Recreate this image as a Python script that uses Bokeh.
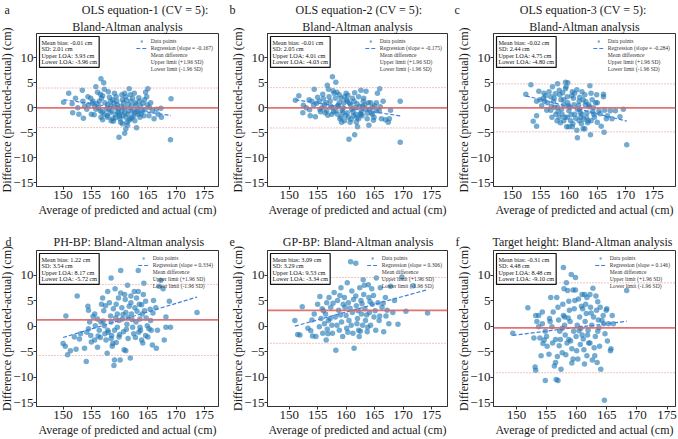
from bokeh.plotting import figure
from bokeh.models import Span, Label, Legend, LegendItem, Title, Range1d, FixedTicker
from bokeh.layouts import gridplot
from bokeh.embed import file_html
from bokeh.resources import INLINE
import numpy as np

FONT = "Liberation Serif"

X_TICKS = [150, 155, 160, 165, 170, 175]
Y_TICKS = [-15, -10, -5, 0, 5, 10]

# ---- (a) OLS equation-1 -------------------------------------------------
ols1_avg = [156.7, 157.2, 155.8, 151.0, 153.4, 150.1, 151.6, 151.7, 152.8, 153.6,
            154.4, 154.9, 154.5, 155.3, 155.6, 155.0, 155.5, 156.1, 156.6, 156.8,
            156.4, 156.3, 156.6, 156.7, 157.3, 157.4, 157.6, 157.8, 158.2, 158.4,
            158.5, 158.6, 158.8, 158.9, 159.1, 159.4, 159.5, 159.6, 159.8, 159.9,
            160.1, 160.2, 160.5, 160.7, 160.8, 160.9, 161.1, 161.3, 161.4, 161.7,
            161.9, 162.0, 162.1, 162.3, 162.5, 162.6, 162.9, 163.2, 163.3, 163.0,
            163.5, 163.7, 164.0, 164.3, 164.6, 165.0, 164.9, 165.5, 165.8, 166.1,
            166.5, 167.3, 167.4, 169.1, 169.0, 159.9, 160.9, 157.9, 157.3, 158.5,
            159.2, 160.4, 161.5, 161.9, 162.7, 163.6, 165.2, 164.8, 162.3, 161.1,
            160.4, 158.0, 158.8, 159.4, 161.5, 162.6, 155.8, 153.8, 153.5, 152.6,
            161.1, 160.5, 157.0, 157.9, 158.3, 159.0, 159.7, 160.3, 160.6, 161.2,
            161.6, 162.2, 162.8, 163.1, 163.8, 164.1, 164.5, 156.0, 155.2, 154.2,
            159.3, 160.0, 161.7, 158.1, 156.9, 163.4, 164.4, 166.8, 165.3, 152.2,
            157.0, 160.9]
ols1_diff = [5.8, 5.0, 4.2, 2.9, 3.5, 1.1, 0.8, -1.0, -1.3, -2.1,
             2.2, 1.9, 0.6, 1.3, 0.3, -1.3, -1.4, 3.1, 2.7, 1.9,
             1.3, 0.0, -0.6, -1.9, 3.7, 1.0, -0.3, -1.6, 2.1, 1.3,
             0.3, -0.6, -2.2, -2.7, 2.9, 2.2, 1.3, 0.6, -0.3, -1.3,
             -2.2, -2.9, 1.6, 1.0, 0.0, -1.0, -1.9, -2.9, -3.5, 3.8,
             2.6, 1.3, 0.3, -0.6, -1.6, 2.9, 0.6, -0.3, -1.3, -4.0,
             1.3, 0.3, -0.6, -1.6, 3.1, 3.8, 0.6, 1.0, -0.6, -2.2,
             -0.3, -0.1, -1.9, 1.8, -6.4, -5.9, -5.1, -1.9, -1.3, -2.6,
             -1.3, -0.6, -1.3, -2.2, -2.6, -1.9, -1.6, 2.2, 1.9, 2.2,
             2.6, 3.2, 1.6, 0.0, 0.6, -1.0, -0.3, 0.3, 1.3, 0.0,
             -4.2, -3.2, 2.4, 0.6, -1.0, 0.9, -0.9, 0.3, -1.5, 1.5,
             -0.6, -2.0, 1.0, -0.8, -1.2, 0.9, -0.4, 0.8, 0.9, -0.3,
             -2.0, -1.7, -2.5, -0.2, -0.9, 2.0, 1.6, -1.3, 0.1, 1.9,
             -2.4, 2.9]

# ---- (b) OLS equation-2 -------------------------------------------------
ols2_avg = [151.1, 151.7, 152.5, 152.4, 153.7, 154.6, 154.4, 154.0, 154.3, 155.0,
            155.3, 155.4, 155.9, 156.2, 156.3, 156.7, 156.9, 157.0, 157.2, 157.3,
            157.6, 158.2, 157.9, 158.1, 158.2, 158.5, 158.8, 159.1, 159.2, 159.5,
            159.7, 160.0, 160.1, 160.2, 160.4, 160.5, 161.5, 160.8, 161.0, 161.1,
            161.4, 161.7, 161.8, 162.0, 162.2, 162.4, 162.6, 162.7, 162.8, 163.0,
            163.3, 163.5, 163.7, 164.0, 164.1, 164.3, 164.6, 164.9, 165.3, 165.5,
            165.9, 165.8, 166.2, 166.5, 166.9, 167.4, 167.8, 167.6, 169.5, 169.5,
            153.0, 153.5, 155.8, 156.5, 156.6, 157.5, 158.5, 159.4, 159.7, 160.7,
            161.3, 161.6, 162.2, 163.1, 163.5, 164.6, 165.3, 158.8, 157.5, 162.6,
            160.2, 159.1, 157.7, 158.6, 159.3, 159.9, 160.6, 160.9, 161.2, 161.9,
            162.5, 162.9, 163.9, 164.4, 165.0, 156.0, 155.5, 154.8, 158.9, 160.3,
            161.5, 157.8, 163.7, 166.0, 158.4, 159.6, 161.9, 164.8, 153.6, 156.8]
ols2_diff = [1.5, 2.4, 0.5, -1.0, -1.6, -1.8, 3.7, 1.3, 0.5, 2.1,
             1.3, -0.3, 2.7, 0.6, -1.0, 4.5, 3.7, 2.2, 1.3, 0.3,
             6.2, 5.1, 2.9, 1.9, -0.6, -1.3, 1.0, -1.9, -2.9, 0.0,
             2.2, 2.9, 1.6, -1.0, -1.9, -6.3, -5.4, 0.6, -0.3, 1.9,
             1.3, -1.3, -2.9, -3.8, -2.2, 0.3, 3.5, -0.6, -1.6, 1.3,
             0.6, 3.3, -2.2, -3.5, -0.3, 1.0, -1.3, -1.9, 1.0, 2.9,
             3.8, -0.6, -2.2, 1.3, -2.4, -2.9, -0.5, -2.2, 1.3, -6.9,
             0.0, 1.6, 0.0, 1.0, -0.6, -1.3, 0.3, -1.0, -2.6, -2.9,
             -1.6, 0.0, 2.2, 1.9, -0.3, 0.1, -0.6, 2.6, 0.0, -1.3,
             1.3, 1.9, 3.4, 0.5, -0.5, -1.5, 0.9, -2.3, -0.8, 0.8,
             -1.2, 0.3, 1.0, -1.0, 0.4, 1.8, -0.8, 0.9, -2.2, 2.5,
             3.0, -0.8, -1.1, 0.2, 3.1, 1.0, -2.0, -2.5, -0.4, -1.5]

# ---- (c) OLS equation-3 -------------------------------------------------
ols3_avg = [152.4, 153.3, 153.7, 154.3, 154.3, 154.7, 154.3, 154.9, 155.6, 155.5,
            156.1, 156.2, 156.5, 156.8, 157.1, 157.3, 157.5, 157.7, 157.9, 158.0,
            158.3, 158.4, 158.6, 158.7, 158.8, 159.4, 159.8, 159.4, 159.7, 159.8,
            160.0, 159.7, 159.6, 160.3, 160.6, 160.8, 160.9, 161.0, 161.4, 161.5,
            161.8, 161.9, 162.1, 162.2, 162.5, 162.8, 162.8, 162.9, 163.2, 163.4,
            163.7, 163.8, 163.9, 164.1, 164.3, 164.5, 164.9, 165.0, 165.3, 165.7,
            166.1, 166.1, 166.2, 166.3, 166.8, 167.3, 168.2, 169.0, 169.6, 170.2,
            156.8, 158.0, 159.1, 160.2, 161.5, 162.3, 163.1, 161.8, 160.6, 159.1,
            158.3, 157.4, 159.1, 162.5, 163.5, 164.4, 155.7, 161.0, 161.9, 160.0,
            163.9, 165.0, 167.6, 156.9, 157.6, 158.1, 158.9, 159.3, 159.9, 160.4,
            160.5, 161.2, 161.7, 162.0, 162.6, 163.0, 163.3, 163.6, 164.2, 164.7,
            165.5, 155.9, 155.2, 157.0, 158.5, 160.7, 161.4, 162.3, 159.5, 166.6]
ols3_diff = [2.7, 4.6, -2.7, -3.7, -1.6, 3.3, 1.3, 1.6, 2.9, 1.9,
             -0.5, 1.0, 3.2, 2.2, 4.2, 1.3, 0.1, -1.3, -2.6, 4.8,
             3.5, 2.6, 1.6, -0.3, -1.3, 5.1, 5.0, 3.8, 2.2, 1.0,
             -0.6, -1.9, -3.8, -2.6, 3.2, 1.9, 0.6, -1.3, -4.5, -6.0,
             1.3, -0.3, -1.9, -3.2, -4.2, -4.2, 2.6, 0.6, -1.0, -2.6,
             4.4, -5.4, 2.9, 1.6, 0.0, -1.9, 2.6, 1.0, -0.6, -3.7,
             2.2, 2.7, -4.9, -0.5, -1.6, -0.6, -0.6, -1.8, -0.3, -7.4,
             -0.5, 0.1, 0.6, 0.1, -0.3, -1.3, -1.9, -2.6, -3.8, -2.6,
             -1.9, 1.9, 1.6, 1.6, 0.6, -1.3, 1.3, 2.9, 2.1, -3.8,
             -2.6, -2.9, -2.2, 0.3, 2.8, -0.8, 3.0, -1.9, 0.4, -1.4,
             2.4, -2.1, 0.5, -1.0, -2.3, 1.2, -3.0, 0.2, -0.8, 1.0,
             -1.2, 2.4, 0.4, -1.9, -3.0, -3.2, 3.6, 3.2, 4.2, -2.2]

# ---- (d) PH-BP -----------------------------------------------------------
phbp_avg = [150.0, 150.4, 150.5, 150.8, 151.3, 152.3, 152.5, 153.8, 154.1, 154.4,
            154.5, 154.7, 154.5, 154.9, 155.0, 155.6, 155.7, 156.1, 156.4, 156.6,
            156.8, 157.0, 157.2, 157.3, 157.4, 157.6, 157.8, 157.9, 158.2, 158.4,
            158.5, 158.6, 158.8, 159.0, 159.1, 160.1, 158.5, 159.2, 159.4, 159.6,
            159.6, 159.9, 160.2, 160.4, 160.5, 160.7, 160.8, 161.1, 160.2, 161.0,
            161.1, 161.3, 161.5, 161.9, 162.0, 162.1, 162.3, 162.5, 162.7, 163.0,
            163.3, 163.3, 163.5, 163.6, 163.7, 163.9, 164.2, 164.4, 164.6, 164.9,
            165.0, 165.4, 165.5, 165.6, 165.8, 166.4, 166.5, 166.7, 167.0, 167.3,
            167.9, 168.2, 168.2, 168.8, 169.0, 173.7, 155.6, 156.1, 153.1, 152.0,
            159.1, 157.9, 158.5, 162.0, 161.5, 162.9, 159.9, 159.4, 156.7, 164.0,
            164.6, 163.6, 164.3, 167.7, 157.1, 158.0, 158.9, 159.3, 160.0, 160.6,
            161.2, 161.7, 162.2, 162.8, 163.1, 163.9, 164.7, 165.2, 165.9, 156.2,
            155.3, 154.2, 157.5, 158.7, 160.9, 162.6, 163.4, 164.1, 166.0, 159.8,
            161.4, 152.9]
phbp_diff = [-3.4, -3.9, 2.0, -5.6, -4.8, -4.5, 5.9, -4.3, -6.9, 3.9,
             3.1, 0.8, -0.5, -1.8, -3.1, 2.4, 0.1, 1.4, -0.8, -2.2,
             4.3, 5.5, 3.0, 0.1, -1.5, -2.7, -5.3, 6.8, 4.6, 2.0,
             0.8, -1.8, -3.4, -7.7, -6.6, -6.6, 9.4, 7.3, 4.3, 2.4,
             -0.2, -2.1, 6.5, 3.6, 1.4, -1.1, -4.6, -4.8, 10.9, 5.2,
             2.7, 0.4, -2.4, -6.2, 4.6, 2.4, -0.2, -1.5, 3.6, 5.5,
             10.9, 6.8, 4.3, 1.4, -0.8, -2.7, 6.2, 3.0, 4.9, 0.1,
             -2.1, 3.3, 1.1, -0.8, -3.7, 3.6, -4.3, -0.8, 7.8, 9.0,
             -2.7, 1.8, -0.2, 4.9, -0.2, 2.7, -2.7, -4.1, -1.5, -2.1,
             -0.8, -0.8, -2.4, 5.9, 1.7, 0.8, 1.1, -3.2, 0.8, 2.4,
             -1.8, -0.2, 8.4, 7.3, 1.0, -1.2, 3.4, 1.6, -1.6, 2.3,
             -0.6, 3.9, 1.3, -2.2, 2.9, 4.2, 1.6, -0.5, 2.6, -1.9,
             1.9, -1.2, 4.0, -3.9, 6.2, 6.8, -1.2, -3.3, 5.0, 5.5,
             8.0, -2.5]

# ---- (e) GP-BP -----------------------------------------------------------
gpbp_avg = [151.0, 151.5, 151.9, 152.3, 153.3, 153.8, 154.4, 154.7, 155.0, 155.3,
            155.6, 155.8, 155.9, 156.2, 156.4, 156.5, 156.6, 156.7, 156.9, 157.0,
            157.3, 157.5, 157.6, 157.9, 158.1, 158.2, 158.5, 158.7, 158.8, 159.1,
            159.2, 159.4, 159.7, 159.8, 160.0, 160.1, 160.2, 160.4, 160.5, 160.8,
            161.0, 161.1, 161.2, 161.4, 161.7, 161.7, 161.8, 162.0, 162.2, 162.3,
            162.4, 162.6, 162.7, 162.9, 163.0, 163.1, 163.3, 163.4, 163.7, 163.9,
            164.0, 164.1, 164.3, 164.5, 164.6, 164.9, 165.2, 165.3, 165.6, 165.8,
            166.0, 166.3, 166.6, 166.9, 167.2, 167.5, 167.8, 168.2, 169.1, 170.5,
            169.8, 171.8, 174.3, 154.1, 156.0, 156.8, 157.7, 158.4, 159.0, 159.5,
            160.3, 160.7, 161.3, 161.9, 162.1, 162.5, 162.8, 163.2, 163.6, 164.2,
            164.8, 165.1, 165.9, 166.5, 157.2, 158.9, 160.9, 163.8, 155.4, 154.0,
            167.0, 168.5]
gpbp_diff = [1.1, -1.6, -1.7, 3.8, -0.4, -0.9, 2.4, -2.0, 4.3, -0.1,
             1.5, 3.4, -1.4, 0.5, 2.4, -2.7, 4.6, -0.6, 1.1, 5.6,
             3.7, 0.2, -1.4, 6.6, 1.8, -4.7, 5.0, 3.1, -0.8, 7.5,
             0.8, -2.0, 5.6, 3.7, 2.1, -0.4, 8.5, 4.6, 1.1, 12.6,
             6.9, 2.7, -1.4, -4.3, 12.3, 5.9, 4.0, 1.5, -0.8, -2.0,
             7.5, 5.0, 2.4, 0.2, 9.1, 6.2, 3.4, 1.1, -1.1, 8.1,
             5.6, 2.7, 0.2, 7.3, 4.3, 1.8, -0.8, 9.4, 4.6, 1.1,
             7.5, 3.7, -1.1, 5.6, 3.1, 0.5, 7.8, 2.7, 0.4, 2.9,
             9.6, 7.9, 2.6, -1.9, 3.0, -1.5, 4.5, 0.2, 2.2, 4.3,
             -1.2, 3.5, 5.2, 0.5, 3.0, -1.0, 4.4, 8.0, 2.2, 4.8,
             6.0, 3.0, 2.0, 4.5, 1.5, 6.0, 0.2, -0.2, 5.8, 1.2,
             2.0, 5.0]

# ---- (f) Target height ---------------------------------------------------
target_avg = [149.4, 151.9, 152.9, 153.2, 153.4, 153.1, 153.2, 153.7, 153.7, 153.9,
              154.1, 154.3, 154.4, 154.8, 154.8, 155.0, 155.1, 155.4, 155.6, 155.7,
              155.9, 156.1, 156.3, 156.5, 156.6, 156.9, 156.7, 156.9, 157.0, 157.2,
              157.3, 157.4, 157.6, 157.8, 157.7, 157.8, 158.0, 158.1, 158.3, 158.4,
              158.5, 158.7, 158.8, 158.9, 159.1, 159.2, 159.4, 159.5, 159.6, 159.8,
              159.8, 159.9, 160.1, 160.2, 160.3, 160.5, 160.6, 160.7, 160.9, 161.0,
              161.2, 161.3, 161.4, 161.6, 161.7, 161.8, 162.0, 162.2, 162.3, 162.5,
              162.7, 162.8, 163.0, 163.1, 163.3, 163.4, 163.5, 163.6, 163.8, 163.9,
              164.0, 164.4, 164.5, 164.6, 164.9, 165.1, 165.3, 165.6, 165.7, 165.9,
              166.1, 168.3, 157.6, 156.5, 158.7, 159.4, 160.9, 161.7, 162.2, 154.3,
              161.3, 157.1, 158.2, 158.6, 159.0, 159.7, 160.4, 160.8, 161.1, 161.5,
              161.9, 162.4, 162.9, 163.2, 163.7, 164.2, 164.7, 156.0, 155.5, 154.6,
              157.9, 159.2, 160.0, 162.6, 163.5, 158.0, 156.8, 165.0]
target_diff = [-1.4, 3.6, -2.3, 2.1, 0.9, -8.0, -8.6, 2.1, -0.1, -2.3,
               -5.8, 2.8, -3.4, -10.6, -1.0, -2.0, -3.9, -5.5, 0.9, 5.6,
               -0.1, 2.8, -7.8, -7.1, -10.4, -10.6, 5.6, 3.7, 1.2, -1.0,
               -2.6, -8.4, -5.2, 11.5, 4.3, 2.1, 0.2, -1.7, 8.5, -3.3,
               7.0, 4.9, 3.1, 0.9, 10.1, -4.4, 7.1, -1.0, 3.4, 9.5,
               7.1, -2.0, 0.2, -6.4, 5.3, 1.8, -3.6, -0.4, 6.2, 3.4,
               -4.6, -7.4, 0.9, 2.5, 5.6, -1.7, -3.3, 6.2, 3.7, 0.2,
               7.4, 1.8, -5.8, -2.0, 3.1, -7.1, -1.0, 1.2, -3.9, 3.7,
               -8.4, 2.1, 0.5, -14.5, 3.1, -2.9, 0.5, -4.8, -4.4, 2.1,
               0.5, 7.0, -0.4, -2.6, -2.6, -6.4, -1.7, -5.8, -3.3, 0.5,
               6.2, -3.8, -5.6, 1.6, -2.9, 5.0, -0.9, 3.9, -2.5, 4.3,
               -0.8, 2.6, -4.2, 5.9, -0.3, 1.1, -1.5, -3.3, 1.5, -2.7,
               7.3, -7.2, -4.8, -6.6, 4.8, 1.8, -5.9, 3.4]

# Reported summary statistics per method: bias, SD, upper LOA, lower LOA, slope
panel_letters = ["a", "b", "c", "d", "e", "f"]
panel_titles = [["OLS equation-1 (CV = 5):", "Bland-Altman analysis"],
                ["OLS equation-2 (CV = 5):", "Bland-Altman analysis"],
                ["OLS equation-3 (CV = 5):", "Bland-Altman analysis"],
                ["PH-BP: Bland-Altman analysis"],
                ["GP-BP: Bland-Altman analysis"],
                ["Target height: Bland-Altman analysis"]]
mean_bias = [-0.01, -0.01, -0.02, 1.22, 3.09, -0.31]
sd_values = [2.01, 2.05, 2.44, 3.54, 3.29, 4.48]
upper_loa = [3.93, 4.01, 4.75, 8.17, 9.53, 8.48]
lower_loa = [-3.96, -4.03, -4.80, -5.72, -3.34, -9.10]
reg_slope = [-0.167, -0.175, -0.284, 0.334, 0.306, 0.146]

avg_series = [ols1_avg, ols2_avg, ols3_avg, phbp_avg, gpbp_avg, target_avg]
diff_series = [ols1_diff, ols2_diff, ols3_diff, phbp_diff, gpbp_diff, target_diff]

X_LABEL = "Average of predicted and actual (cm)"
Y_LABEL = "Difference (predicted-actual) (cm)"

# layout constants
X_LIMS = [(145.3, 177.5), (146.2, 177.8), (146.7, 178.8),
          (145.3, 177.5), (146.2, 177.8), (146.2, 176.4)]
Y_LIM = (-15.7, 14.8)
COL_BORDERS = [(35, 8), (41, 5), (41, 3)]   # left, right
ROW_SIZES = [(219, 28, 31), (220, 31, 28)]  # height, top, bottom
ROW_TITLE_STANDOFF = [1, 4]
LETTER_LEFT = [3, 3, 2, 4, 3, 3]            # px from the canvas' left edge
TITLE_GAP = [24, 20, 20, 14, 16, 11]        # spaces between letter and title
YTITLE_STANDOFF = -6                        # pulls the y title against the ticks

PT_COLOR = "#1f77b4"
REG_COLOR = "#3f7fe0"
MEAN_COLOR = "#df6464"
LOA_COLOR = "#e08888"
AX_COLOR = "#333333"
TXT_COLOR = "#1a1a1a"
DOT = "1 2"
NBSP = "\u00a0"


def make_panel(i):
    row, col = divmod(i, 3)
    h, btop, bbot = ROW_SIZES[row]
    bl, br = COL_BORDERS[col]
    xlo, xhi = X_LIMS[i]
    p = figure(width=226, height=h, output_backend="svg", toolbar_location=None,
               x_range=Range1d(xlo, xhi), y_range=Range1d(*Y_LIM),
               min_border_left=bl, min_border_right=br,
               min_border_top=btop, min_border_bottom=bbot,
               x_axis_label=X_LABEL)
    p.background_fill_color = "white"
    p.border_fill_color = "white"
    p.outline_line_color = AX_COLOR
    p.outline_line_width = 1
    p.xgrid.visible = False
    p.ygrid.visible = False
    p.xaxis.ticker = FixedTicker(ticks=X_TICKS)
    p.yaxis.ticker = FixedTicker(ticks=Y_TICKS)
    for ax in (p.xaxis[0], p.yaxis[0]):
        ax.major_tick_out = 3
        ax.major_tick_in = 0
        ax.minor_tick_out = 0
        ax.minor_tick_in = 0
        ax.axis_line_color = AX_COLOR
        ax.major_tick_line_color = AX_COLOR
        ax.major_label_text_font = FONT
        ax.major_label_text_font_size = "13px"
        ax.major_label_text_color = TXT_COLOR
        ax.axis_label_text_font = FONT
        ax.axis_label_text_font_size = "12px"
        ax.axis_label_text_font_style = "normal"
        ax.axis_label_text_color = TXT_COLOR
        ax.axis_label_standoff = 1
    p.xaxis[0].major_label_standoff = 1
    p.yaxis[0].major_label_standoff = 0

    # vertical axis title as a rotated side title next to the tick labels
    p.add_layout(Title(text=Y_LABEL, align="center", text_font=FONT,
                       text_font_size="12px", text_font_style="normal",
                       text_color=TXT_COLOR, standoff=YTITLE_STANDOFF), "left")

    # first title line carries the panel letter at the far left;
    # an extra Title added "above" sits between it and the frame
    lines = panel_titles[i]
    p.title.text = panel_letters[i] + NBSP * TITLE_GAP[i] + lines[0]
    p.title.align = "left"
    p.title.offset = LETTER_LEFT[i] - bl
    p.title.text_font = FONT
    p.title.text_font_size = "12px"
    p.title.text_font_style = "normal"
    p.title.text_color = TXT_COLOR
    p.title.standoff = ROW_TITLE_STANDOFF[row]
    if len(lines) > 1:
        p.add_layout(Title(text=lines[1], align="center", text_font=FONT,
                           text_font_size="12px", text_font_style="normal",
                           text_color=TXT_COLOR, standoff=0), "above")

    xs = np.array(avg_series[i], dtype=float)
    ys = np.array(diff_series[i], dtype=float)

    r_pts = p.scatter(xs, ys, size=5.5, fill_color=PT_COLOR, fill_alpha=0.62,
                      line_color=None)

    # regression line through the centroid with the reported slope
    xr = np.array([xs.min(), xs.max()])
    yr = mean_bias[i] + reg_slope[i] * (xr - xs.mean())
    r_reg = p.line(xr, yr, line_color=REG_COLOR, line_width=1.2, line_dash="4 2")

    p.add_layout(Span(location=mean_bias[i], dimension="width",
                      line_color=MEAN_COLOR, line_width=1.8, line_alpha=0.9))
    for loa in (upper_loa[i], lower_loa[i]):
        p.add_layout(Span(location=loa, dimension="width", line_color=LOA_COLOR,
                          line_width=1, line_dash=DOT))

    # legend proxies for the horizontal reference lines
    r_mean = p.line([], [], line_color=MEAN_COLOR, line_width=1.8, line_alpha=0.9)
    r_up = p.line([], [], line_color=LOA_COLOR, line_width=1, line_dash=DOT)
    r_lo = p.line([], [], line_color=LOA_COLOR, line_width=1, line_dash=DOT)

    legend = Legend(items=[
        LegendItem(label="Data points", renderers=[r_pts]),
        LegendItem(label="Regression (slope = %.3f)" % reg_slope[i], renderers=[r_reg]),
        LegendItem(label="Mean difference", renderers=[r_mean]),
        LegendItem(label="Upper limit (+1.96 SD)", renderers=[r_up]),
        LegendItem(label="Lower limit (-1.96 SD)", renderers=[r_lo]),
    ], location="top_right")
    legend.label_text_font = FONT
    legend.label_text_font_size = "5.6px"
    legend.label_text_color = "#333333"
    legend.label_height = 6
    legend.glyph_height = 6
    legend.glyph_width = 11
    legend.label_standoff = 4
    legend.spacing = 1
    legend.padding = 2
    legend.margin = 3
    legend.background_fill_alpha = 0
    legend.border_line_alpha = 0
    p.add_layout(legend)

    stats = "Mean bias: %.2f cm\nSD: %.2f cm\nUpper LOA: %.2f cm\nLower LOA: %.2f cm" % (
        mean_bias[i], sd_values[i], upper_loa[i], lower_loa[i])
    p.add_layout(Label(x=xlo, y=Y_LIM[1], x_offset=3, y_offset=-3, text=stats,
                       text_align="left", text_baseline="top",
                       text_font=FONT, text_font_size="6.2px", text_color="#111111",
                       text_line_height=0.95,
                       background_fill_color="white", border_line_color="#111111",
                       border_line_width=1.2, padding=2))
    return p


panels = [make_panel(i) for i in range(6)]
grid = gridplot([panels[:3], panels[3:]], toolbar_location=None)

open("out.html", "w").write(file_html(grid, INLINE))
